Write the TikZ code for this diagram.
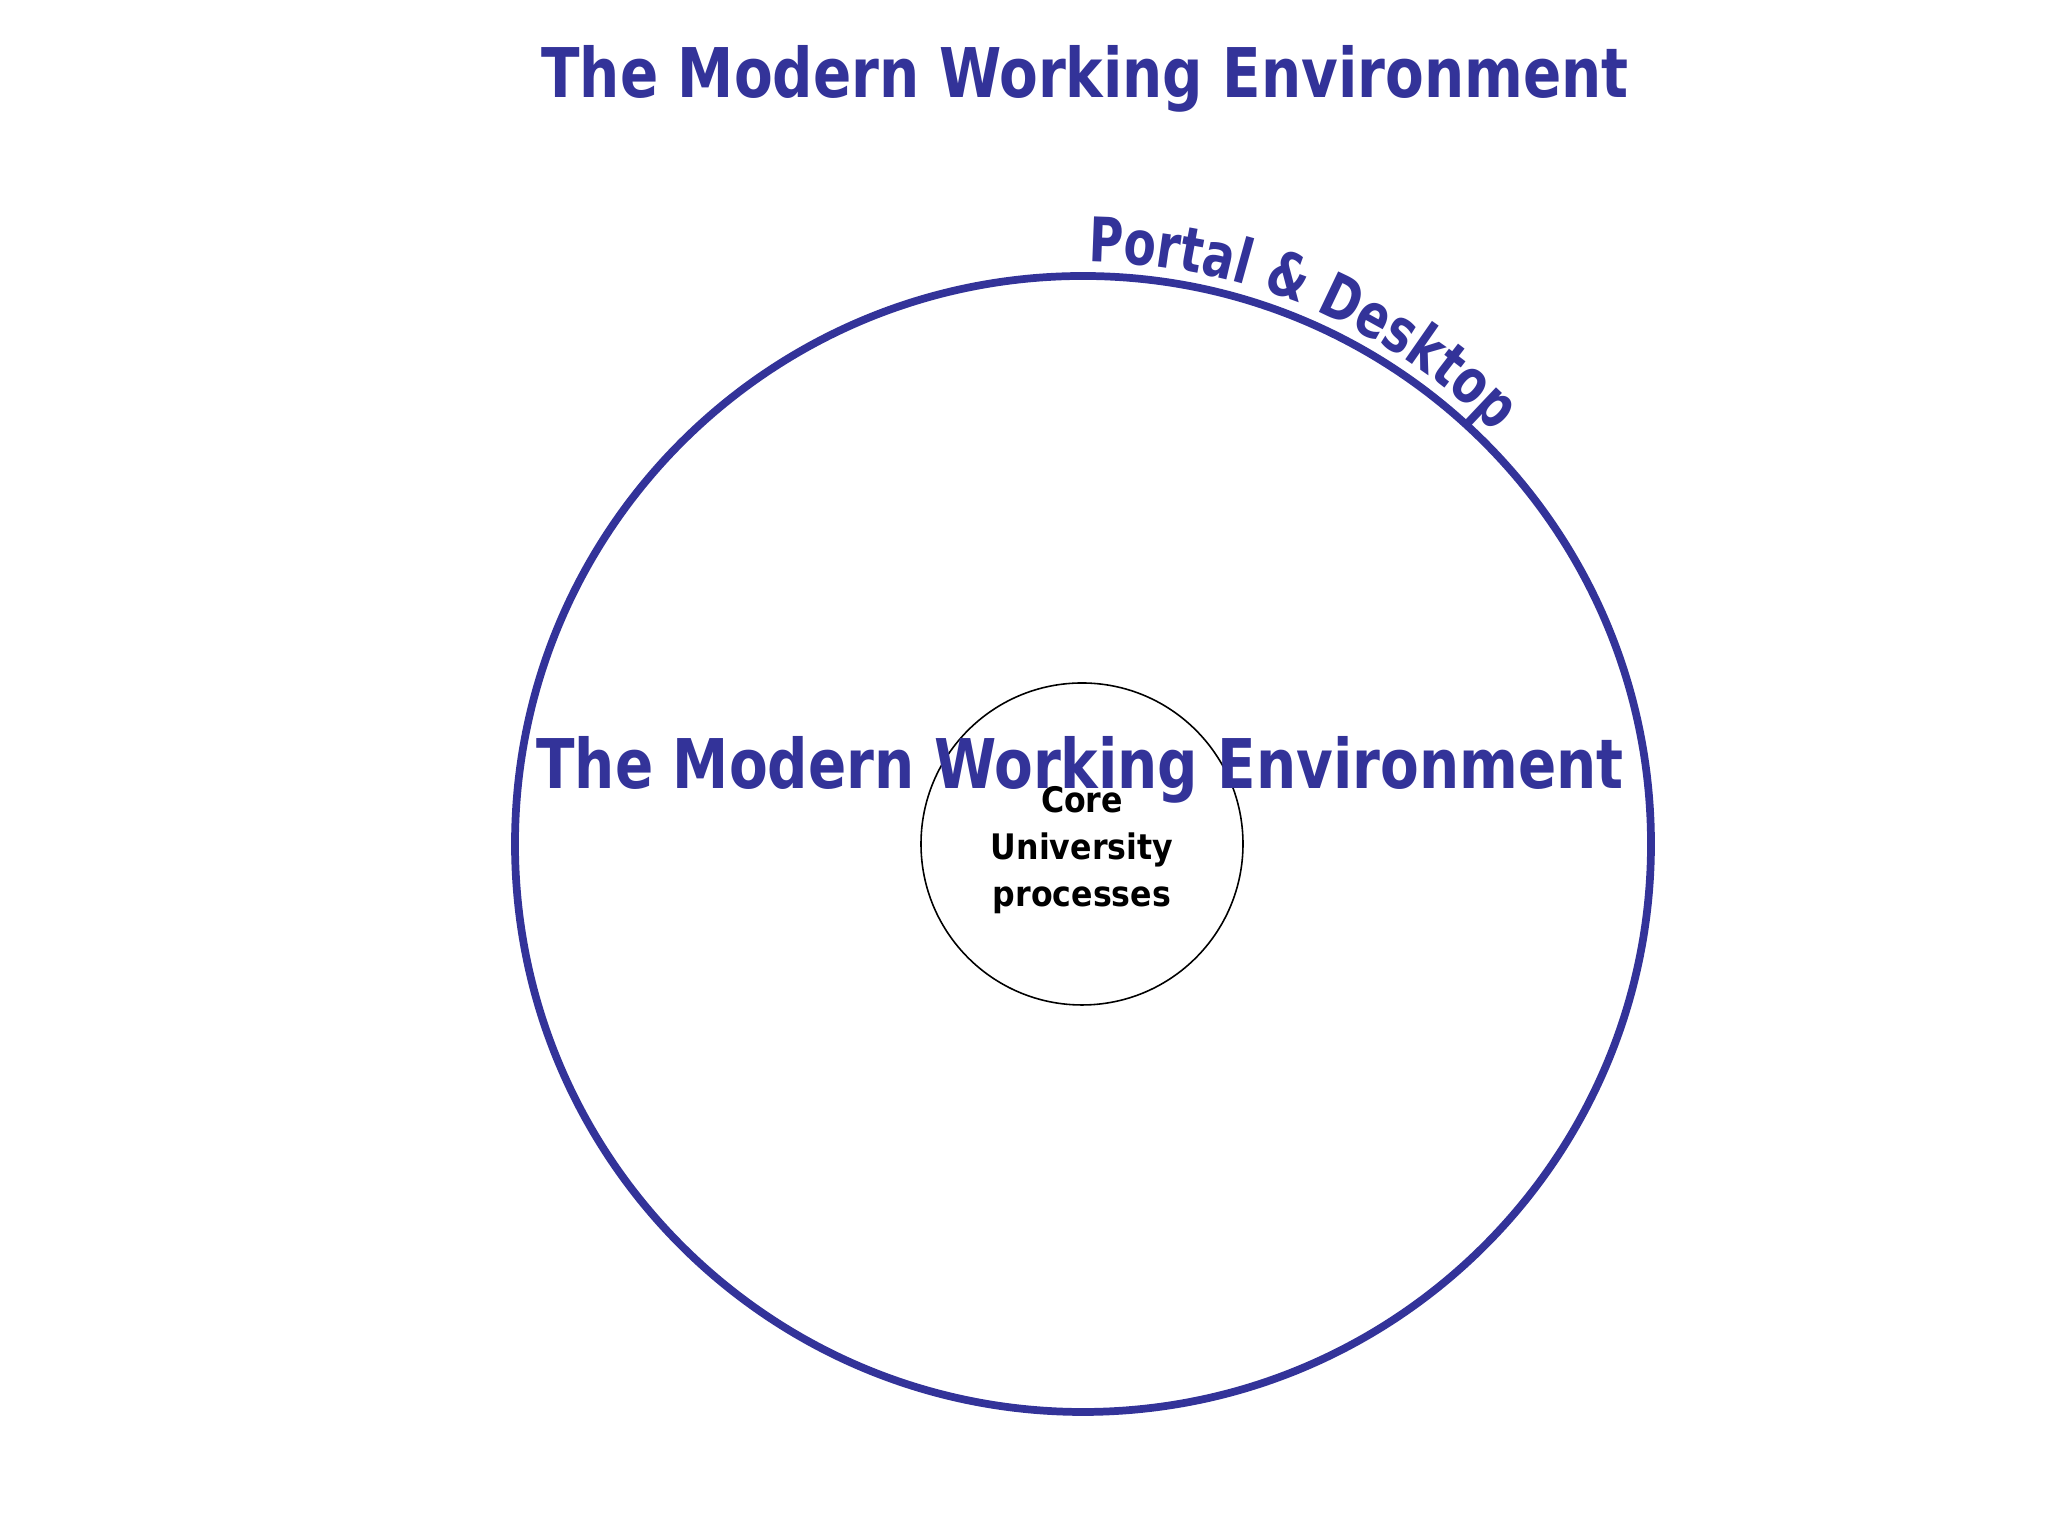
\documentclass[tikz,border=0pt]{standalone}
\usepackage{fontspec}
\setmainfont{DejaVu Sans Condensed}
\newfontfamily\headfont[FakeStretch=0.915]{DejaVu Sans Condensed}
\newfontfamily\arcfont[FakeStretch=0.85]{DejaVu Sans Condensed}
\usetikzlibrary{decorations.text}
\definecolor{navy}{RGB}{51,51,153}
\tikzset{
  heading/.style={font=\headfont\bfseries\fontsize{19.5}{23}\selectfont, text=navy, inner sep=0pt, anchor=base},
  ring/.style={draw=navy, line width=2.2pt},
  corecircle/.style={draw=black, line width=0.45pt, circle},
  coretext/.style={font=\bfseries\fontsize{10}{13.4}\selectfont, text=black, align=center, inner sep=0pt}
}
\begin{document}
\begin{tikzpicture}
\useasboundingbox[fill=white] (0,0) rectangle (20.48,15.36);
\coordinate (c) at (10.83,6.92);
\node[heading] (title) at (10.85,14.38) {The Modern Working Environment};
\draw[ring] (c) circle[radius=5.68];
\node[corecircle, minimum size=3.22cm, inner sep=0pt] (core) at (10.82,6.92) {};
\node[heading] (mid) at (10.80,7.47) {The Modern Working Environment};
\node[coretext] (coretxt) at (10.82,6.86) {Core\\University\\processes};
\path[decorate, decoration={text along path, text align=left,
  text={|\arcfont\bfseries\fontsize{17.5}{21}\selectfont\color{navy}|Portal {\&} Desktop}}]
  (c) ++(89.5:5.82) arc[start angle=89.5, end angle=20, radius=5.82];
\end{tikzpicture}
\end{document}
